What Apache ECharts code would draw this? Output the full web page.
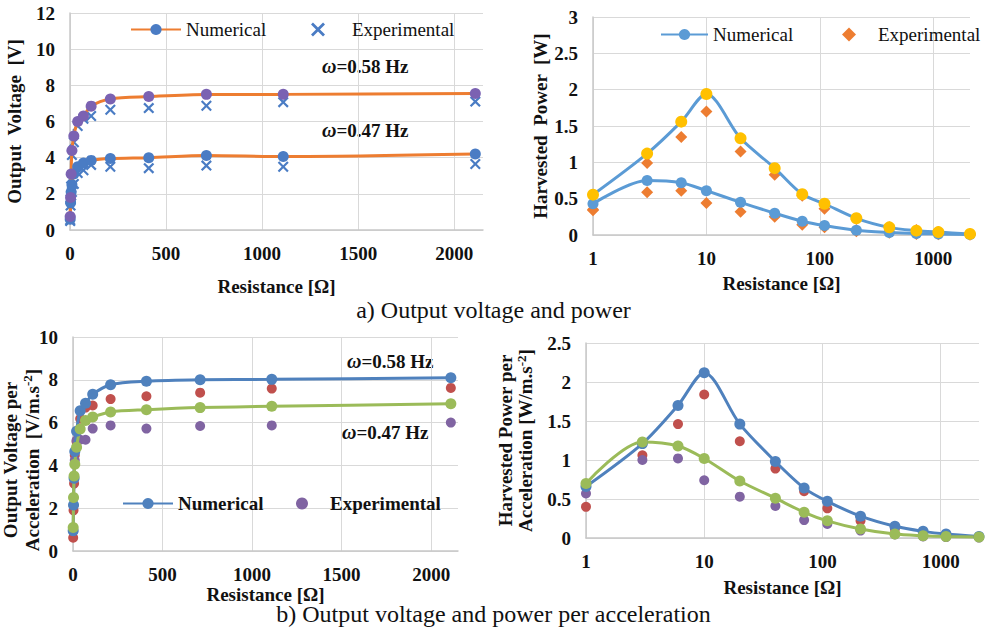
<!DOCTYPE html>
<html><head><meta charset="utf-8">
<script src="https://cdn.jsdelivr.net/npm/echarts@6/dist/echarts.min.js"></script>
<style>html,body{margin:0;padding:0;background:#fff}#c{width:987px;height:632px}</style>
</head><body><div id="c"></div>
<script>
// Resistances [Ohm]
const resistance = [1, 3, 6, 10, 20, 40, 70, 110, 210, 410, 710, 1110, 2110];
// a) Output voltage [V]
const voltNum058 = [0.75, 1.8, 3.1, 4.4, 5.2, 6.0, 6.3, 6.85, 7.25, 7.38, 7.5, 7.5, 7.55];
const voltNum047 = [0.6, 1.5, 2.1, 2.5, 3.1, 3.5, 3.7, 3.85, 3.95, 4.0, 4.12, 4.06, 4.2];
const voltExp058 = [0.55, 1.7, 2.85, 4.15, 4.85, 5.75, 6.15, 6.3, 6.65, 6.74, 6.87, 7.07, 7.1];
const voltExp047 = [0.5, 1.35, 1.9, 2.1, 2.55, 3.15, 3.3, 3.6, 3.5, 3.42, 3.56, 3.5, 3.65];
// a) Harvested power [W]
const powNum058 = [0.555, 1.12, 1.56, 1.94, 1.33, 0.92, 0.56, 0.43, 0.23, 0.105, 0.06, 0.04, 0.015];
const powNum047 = [0.43, 0.75, 0.72, 0.61, 0.45, 0.30, 0.19, 0.13, 0.065, 0.035, 0.02, 0.015, 0.008];
const powExp058 = [0.35, 0.99, 1.35, 1.70, 1.15, 0.83, 0.54, 0.36, 0.22, 0.105, 0.07, 0.04, 0.015];
const powExp047 = [0.34, 0.59, 0.61, 0.44, 0.32, 0.25, 0.14, 0.105, 0.05, 0.03, 0.015, 0.012, 0.005];
// b) Output voltage per acceleration [V/m.s^-2]
const vaNum058 = [0.95, 2.15, 3.4, 4.65, 5.6, 6.55, 6.9, 7.32, 7.77, 7.93, 8.0, 8.02, 8.1];
const vaNum047 = [1.1, 2.5, 3.5, 4.05, 4.85, 5.7, 6.1, 6.26, 6.5, 6.6, 6.7, 6.76, 6.88];
const vaExp058 = [0.62, 1.9, 3.15, 4.47, 5.1, 6.18, 6.7, 6.8, 7.1, 7.23, 7.4, 7.59, 7.62];
const vaExp047 = [0.93, 2.13, 3.38, 4.24, 5.17, 5.2, 5.2, 5.72, 5.87, 5.72, 5.84, 5.87, 6.0];
// b) Harvested power per acceleration [W/m.s^-2]
const paNum058 = [0.66, 1.21, 1.70, 2.12, 1.46, 0.98, 0.64, 0.47, 0.28, 0.15, 0.085, 0.05, 0.02];
const paNum047 = [0.70, 1.23, 1.18, 1.02, 0.73, 0.51, 0.33, 0.22, 0.115, 0.05, 0.03, 0.02, 0.012];
const paExp058 = [0.40, 1.06, 1.46, 1.84, 1.24, 0.89, 0.60, 0.38, 0.22, 0.12, 0.07, 0.04, 0.015];
const paExp047 = [0.57, 1.0, 1.02, 0.74, 0.53, 0.41, 0.23, 0.18, 0.095, 0.045, 0.02, 0.012, 0.005];

const captionA = 'a) Output voltage and power';
const captionB = 'b) Output voltage and power per acceleration';

const pairs = v => resistance.map((r, i) => [r, v[i]]);
const FONT = '"Liberation Serif", "Times New Roman", serif';
const crossPath = 'path://M0,1.4L1.4,0L5,3.6L8.6,0L10,1.4L6.4,5L10,8.6L8.6,10L5,6.4L1.4,10L0,8.6L3.6,5Z';
const C = {orange:'#ed7d31', blue:'#4a7cc4', purple:'#7b62b2', lblue:'#5b9bd5', yellow:'#ffc000',
  bblue:'#4f81bd', green:'#9bbb59', red:'#c0504d', bpurple:'#8064a2'};

const supRich = {sup:{fontFamily:FONT, fontWeight:'bold', fontSize:13, verticalAlign:'top', padding:[0,0,8,0]}};
const axisLabel = {color:'#111', fontFamily:FONT, fontStyle:'normal', fontWeight:'bold', fontSize:19, formatter: v => String(v)};
const nameStyle = {color:'#111', fontFamily:FONT, fontStyle:'normal', fontWeight:'bold', fontSize:19, rich:supRich};
const splitLine = {show:true, lineStyle:{color:'#d9d9d9', width:1}, showMaxLine:false};
const splitLineY = {show:true, lineStyle:{color:'#d9d9d9', width:1}};
const axisLine = {show:true, lineStyle:{color:'#c8c8c8', width:1.5}};

function xAxisLin(grid, max, gap){
  return {type:'value', gridIndex:grid, min:0, max:max, interval:500, axisLine, axisTick:{show:false},
    axisLabel:Object.assign({margin:14, showMaxLabel:false}, axisLabel), splitLine,
    name:'Resistance [Ω]', nameLocation:'middle', nameGap:gap, nameTextStyle:nameStyle};
}
function xAxisLog(grid, max, gap){
  return {type:'log', logBase:10, gridIndex:grid, min:1, max:max, axisLine, axisTick:{show:false},
    axisLabel:Object.assign({margin:14, showMaxLabel:false}, axisLabel), splitLine, minorSplitLine:{show:false},
    name:'Resistance [Ω]', nameLocation:'middle', nameGap:gap, nameTextStyle:nameStyle};
}
function yAxis(grid, max, interval, name, gap){
  return {type:'value', gridIndex:grid, min:0, max:max, interval:interval, axisLine, axisTick:{show:false},
    axisLabel:Object.assign({margin:15}, axisLabel), splitLine:splitLineY,
    name:name, nameLocation:'middle', nameGap:gap, nameRotate:90, nameTextStyle:nameStyle};
}
function line(name, grid, data, lineColor, markColor, size, width){
  return {type:'line', name, xAxisIndex:grid, yAxisIndex:grid, data:pairs(data), smooth:0.3,
    symbol:'circle', symbolSize:size, showSymbol:true, lineStyle:{color:lineColor, width:width||3},
    itemStyle:{color:markColor}, z:3, animation:false};
}
function scatter(name, grid, data, color, symbol, size){
  return {type:'scatter', name, xAxisIndex:grid, yAxisIndex:grid, data:pairs(data), symbol:symbol,
    symbolSize:size, symbolKeepAspect:true, itemStyle:{color:color, opacity:1}, z:2, animation:false};
}
function legend(name, left, top, w, h, bold, textPad){
  return {data:[name], left, top, padding:0, itemWidth:w, itemHeight:h, itemGap:0, selectedMode:false,
    textStyle:{fontFamily:FONT, fontStyle:'normal', fontSize:19, color:'#111', fontWeight: bold ? 'bold' : 'normal',
      padding:[0,0,0,textPad||0]},
    formatter: n => n.trim()};
}
const omega = (t, left, top) => ({type:'text', left, top, style:{text:'{i|ω}=' + t + ' Hz',
  fontFamily:FONT, fontWeight:'bold', fontSize:19, fill:'#111',
  rich:{i:{fontStyle:'italic', fontWeight:'bold', fontSize:20, fontFamily:FONT}}}});
const capStyle = {fontFamily:FONT, fontStyle:'normal', fontWeight:'normal', fontSize:24, color:'#111'};

const option = {
  backgroundColor:'#fff',
  animation:false,
  title:[
    {text:captionA, left:'center', top:298, padding:0, textStyle:capStyle},
    {text:captionB, left:'center', top:602, padding:0, textStyle:capStyle}
  ],
  grid:[
    {left:70, top:13, width:413, height:217},
    {left:593, top:17, width:377, height:218},
    {left:73, top:337, width:385, height:214},
    {left:586, top:343, width:393, height:195}
  ],
  xAxis:[xAxisLin(0, 2150, 47), xAxisLog(1, 2110, 39), xAxisLin(2, 2150, 27), xAxisLog(3, 2110, 40)],
  yAxis:[
    yAxis(0, 12, 2, 'Output  Voltage  [V]', 46),
    yAxis(1, 3, 0.5, 'Harvested  Power  [W]', 39),
    yAxis(2, 10, 2, '', 34),
    yAxis(3, 2.5, 0.5, 'Harvested Power per\nAcceleration [W/m.s{sup|-2}]', 50)
  ],
  legend:[
    legend('Numerical', 130, 20, 50, 14),
    legend('Experimental', 311, 20, 14, 14, false, 22),
    legend('Numerical ', 660, 25, 47, 14),
    legend('Experimental ', 842, 25, 14, 14, false, 17),
    legend('Numerical  ', 122, 494, 50, 14, true),
    legend('Experimental  ', 296, 494, 12, 12, true, 17)
  ],
  graphic:[
    omega('0.58', 322, 56),
    omega('0.47', 322, 120),
    omega('0.58', 347, 351),
    omega('0.47', 342, 422),
    {type:'text', x:21, y:460, rotation:Math.PI/2, style:{
      text:'Output Voltage per\nAcceleration  [V/m.s{sup|-2}]', align:'center', verticalAlign:'middle',
      fontFamily:FONT, fontWeight:'bold', fontSize:19, lineHeight:22, fill:'#111', rich:supRich}}
  ],
  series:[
    // a) voltage
    scatter('Experimental', 0, voltExp047, C.blue, crossPath, 11),
    scatter('Exp 0.58 V', 0, voltExp058, C.blue, crossPath, 11),
    line('Numerical', 0, voltNum047, C.orange, C.blue, 11),
    line('Num 0.58 V', 0, voltNum058, C.orange, C.purple, 11),
    // a) power
    line('Numerical ', 1, powNum047, C.lblue, C.lblue, 11),
    line('Num 0.58 P', 1, powNum058, C.lblue, C.yellow, 12),
    scatter('Experimental ', 1, powExp058, C.orange, 'diamond', 12),
    scatter('Exp 0.47 P', 1, powExp047, C.orange, 'diamond', 12),
    // b) voltage per acceleration
    line('Numerical  ', 2, vaNum058, C.bblue, C.bblue, 11),
    line('Num 0.47 VA', 2, vaNum047, C.green, C.green, 11),
    scatter('Exp 0.58 VA', 2, vaExp058, C.red, 'circle', 10),
    scatter('Experimental  ', 2, vaExp047, C.bpurple, 'circle', 10),
    // b) power per acceleration
    line('Num 0.58 PA', 3, paNum058, C.bblue, C.bblue, 11),
    line('Num 0.47 PA', 3, paNum047, C.green, C.green, 11),
    scatter('Exp 0.58 PA', 3, paExp058, C.red, 'circle', 10),
    scatter('Exp 0.47 PA', 3, paExp047, C.bpurple, 'circle', 10)
  ]
};
const chart = echarts.init(document.getElementById('c'), null, {renderer:'svg'});
chart.setOption(option);
</script></body></html>
